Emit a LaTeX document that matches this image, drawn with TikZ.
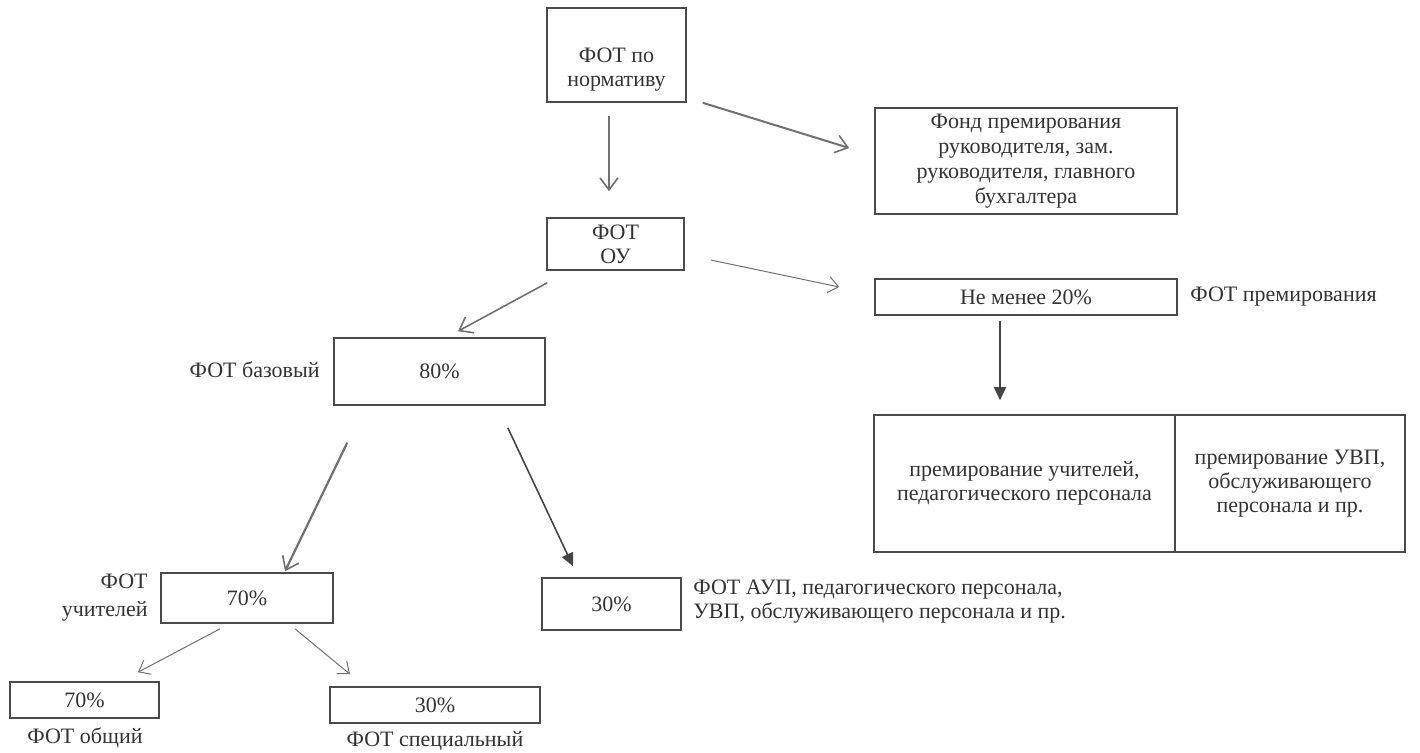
\documentclass[tikz,border=0pt]{standalone}
\usepackage{fontspec}
\setmainfont{Liberation Serif}
\usetikzlibrary{arrows.meta}
\definecolor{linec}{HTML}{4A4A4A}
\definecolor{txt}{HTML}{333333}
\definecolor{arrc}{HTML}{707070}
\definecolor{darkc}{HTML}{454545}
\begin{document}
\begin{tikzpicture}[x=0.5pt,y=-0.5pt,
  box/.style={draw=linec, line width=0.8pt, inner sep=0pt, align=center, text=txt,
    font=\fontsize{11}{12}\selectfont},
  lbl/.style={text=txt, inner sep=0pt, font=\fontsize{11}{12}\selectfont},
  arr/.style={draw=arrc, line width=0.8pt, -{Straight Barb[length=6pt,width=9pt,line width=0.8pt]}},
  thinarr/.style={draw=arrc, line width=0.5pt, -{Straight Barb[length=5pt,width=8pt,line width=0.5pt]}},
  farr/.style={draw=darkc, line width=0.8pt, -{Triangle[length=6.5pt,width=6pt]}}]
\useasboundingbox (0,0) rectangle (1420,752);

% boxes
\node[box, minimum width=69.5pt, minimum height=47pt] (b1) at (616.5,55)
  {\raisebox{-7.5pt}[\height][\depth]{\begin{tabular}{@{}c@{}}ФОТ по\\нормативу\end{tabular}}};
\node[box, minimum width=68.5pt, minimum height=26pt] (b2) at (615.5,244) {ФОТ\\ОУ};
\node[box, minimum width=151pt, minimum height=53pt, font=\fontsize{11}{12.5}\selectfont] (fond) at (1026,161)
  {Фонд премирования\\руководителя, зам.\\руководителя, главного\\бухгалтера};
\node[box, minimum width=151pt, minimum height=18pt] (nm) at (1026,297) {Не менее 20\%};
\node[lbl, anchor=west] (nml) at (1190,297) {ФОТ премирования};
\node[box, minimum width=150.5pt, minimum height=68.5pt] (pl) at (1024.5,483.5)
  {премирование учителей,\\педагогического персонала};
\node[box, minimum width=115pt, minimum height=68.5pt] (pr) at (1290,483.5)
  {премирование УВП,\\обслуживающего\\персонала и пр.};
\node[box, minimum width=105.5pt, minimum height=33.5pt] (b80) at (439.5,371.5) {80\%};
\node[lbl, anchor=east] (b80l) at (320,370) {ФОТ базовый};
\node[box, minimum width=86pt, minimum height=25pt] (b70) at (247,598) {70\%};
\node[lbl, anchor=east, align=right, font=\fontsize{11}{14}\selectfont] (b70l) at (148,598) {ФОТ\\учителей};
\node[box, minimum width=69.5pt, minimum height=26pt] (b30) at (611.5,604) {30\%};
\node[lbl, anchor=west, align=left] (b30l) at (693,602)
  {ФОТ АУП, педагогического персонала,\\УВП, обслуживающего персонала и пр.};
\node[box, minimum width=74.5pt, minimum height=18pt] (s70) at (84.5,700) {70\%};
\node[lbl] (s70l) at (85,738) {ФОТ общий};
\node[box, minimum width=105pt, minimum height=18pt] (s30) at (435,705) {30\%};
\node[lbl] (s30l) at (435,741) {ФОТ специальный};

% connectors
\draw[arr] ([shift={(-7.5,13)}]b1.south) -- ([shift={(-6.5,-26)}]b2.north);
\draw[arr, line width=1pt] ([shift={(16,0)}]b1.south east) -- ([shift={(-25,-13)}]fond.west);
\draw[thinarr] ([shift={(26,16)}]b2.east) -- ([shift={(-35,-10)}]nm.west);
\draw[arr] ([shift={(1,12)}]b2.south west) -- ([shift={(18.5,-6)}]b80.north);
\draw[farr] ([shift={(-26,5)}]nm.south) -- ([shift={(-24.5,-14)}]pl.north);
\draw[arr, line width=1.1pt] ([shift={(14,37)}]b80.south west) -- ([shift={(38,-1)}]b70.north);
\draw[farr] ([shift={(-38,22)}]b80.south east) -- ([shift={(-38.5,-11)}]b30.north);
\draw[thinarr] ([shift={(-27,5)}]b70.south) -- ([shift={(53.5,-9)}]s70.north);
\draw[thinarr] ([shift={(48,5)}]b70.south) -- ([shift={(-85,-12)}]s30.north);
\end{tikzpicture}
\end{document}
